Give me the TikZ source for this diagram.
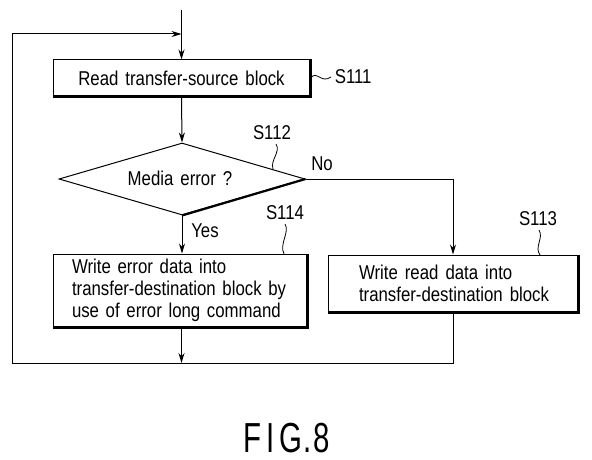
\documentclass[tikz,border=0pt]{standalone}
\usepackage{fontspec}
\setmainfont{Liberation Sans}[FakeStretch=0.84,WordSpace=1.5]
\newfontfamily\figfont{Liberation Sans}[FakeStretch=0.7]
\usetikzlibrary{arrows.meta,shapes.geometric}
\begin{document}
\begin{tikzpicture}[x=1pt,y=-1pt,
  every node/.style={font=\fontsize{20}{22}\selectfont},
  line width=1pt,
  arr/.style={-{Stealth[length=10pt,width=6pt]}},
  box/.style={draw,rectangle,inner sep=0pt},
  heavy/.style={line width=2.2pt},
  squig/.style={line width=0.8pt}]
\useasboundingbox (0,0) rectangle (592,460);
% nodes
\node[box,minimum width=257pt,minimum height=36pt] (s111) at (181.5,78) {Read transfer-source block};
\node[draw,diamond,minimum width=246pt,minimum height=72pt,inner sep=0pt] (d) at (182,179) {};
\node (dt) at (180,178) {Media error ?};
\node[box,minimum width=254pt,minimum height=73pt,text width=216pt,align=left] (s114) at (180,290.5)
  {Write error data into\\transfer-destination block by\\use of error long command};
\node[box,minimum width=250pt,minimum height=57pt] (s113) at (453,283.5) {};
\node[anchor=west,align=left,inner sep=0pt] (s113t) at ([xshift=31pt]s113.west)
  {Write read data into\\transfer-destination block};
% heavy shadow edges
\draw[heavy] (s111.north east) -- (s111.south east) -- (s111.south west);
\draw[heavy] (s114.north east) -- (s114.south east) -- (s114.south west);
\draw[heavy] (s113.north east) -- (s113.south east) -- (s113.south west);
\draw[heavy] (d.east) -- (d.south);
% coordinates
\coordinate (top) at (181.5,10);
\coordinate (merge) at (181.5,34);
\coordinate (ltop) at (12,34);
\coordinate (lbot) at (12,363);
\coordinate (bj) at (181.5,363);
\coordinate (rb) at (453,363);
% connectors
\draw[arr] (top) -- (s111.north);
\draw[arr] (s111.south) -- (d.north);
\draw[arr] (d.south) -- (d.south |- s114.north);
\draw[arr] (d.east) -| (s113.north);
\draw[arr] (s113.south) -- (rb) -- (lbot) -- (ltop) -- (merge);
\draw[arr] (s114.south -| bj) -- (bj);
% labels
\node (no) at (322,164) {No};
\node (yes) at (205,231) {Yes};
\node[anchor=west] (l111) at (331,77) {S111};
\draw[squig] (s111.east) .. controls (317,70) and (321,84) .. (l111.west);
\node (l112) at (272,133) {S112};
\draw[squig] (276,144) .. controls (281,152) and (270,160) .. (273,169);
\node (l114) at (285,213) {S114};
\draw[squig] (285,224) .. controls (290,232) and (279,244) .. (284,254);
\node (l113) at (538,219) {S113};
\draw[squig] (539,230) .. controls (544,238) and (534,247) .. (540,255);
\node[font=\figfont\fontsize{42}{44}\selectfont,inner sep=0pt] (fig) at (287,438) {F\hspace{5pt}I\hspace{5pt}G\hspace{1pt}.\hspace{2pt}8};
\end{tikzpicture}
\end{document}
